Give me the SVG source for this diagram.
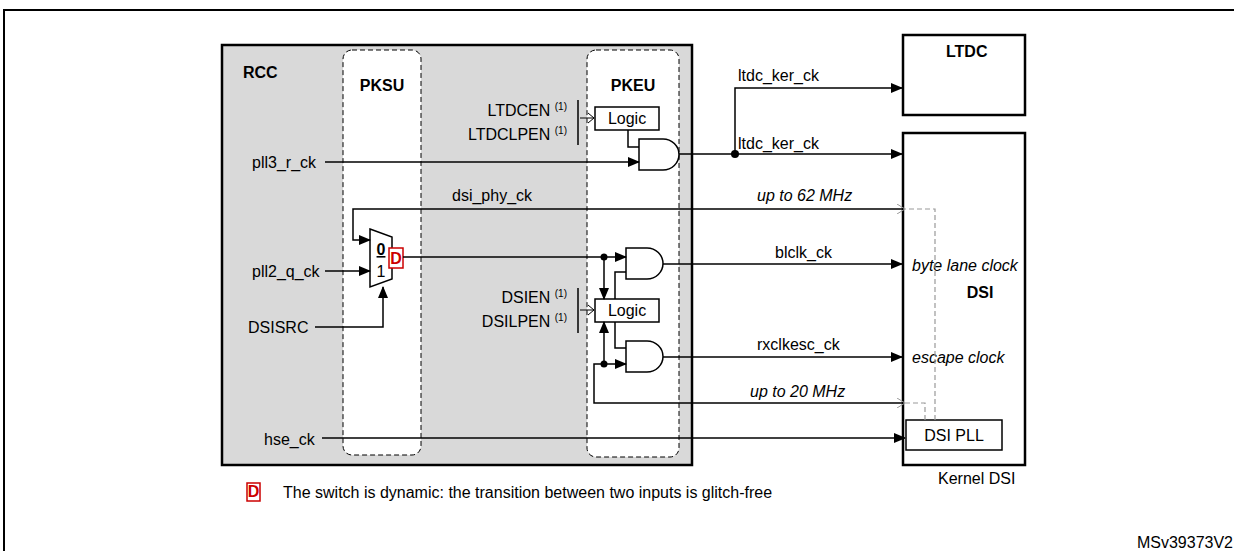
<svg xmlns="http://www.w3.org/2000/svg" width="1234" height="551" viewBox="0 0 1234 551">
<defs>
<marker id="a" markerWidth="12" markerHeight="10" refX="11" refY="5" orient="auto" markerUnits="userSpaceOnUse"><path d="M0,0 L12,5 L0,10 Z" fill="#000"/></marker>
<marker id="o" markerWidth="10" markerHeight="10" refX="1" refY="5" orient="auto" markerUnits="userSpaceOnUse"><path d="M9,0 L1,5 L9,10" fill="none" stroke="#999" stroke-width="1"/></marker>
<style>
text{font-family:"Liberation Sans",Arial,sans-serif;font-size:16px;fill:#000}
.b{font-weight:bold}
.i{font-style:italic}
.s{font-size:10px}
.w{stroke:#000;stroke-width:1.5;fill:none}
.d{stroke:#000;stroke-width:1;stroke-dasharray:5,3;fill:#fff}
.g{stroke:#999;stroke-width:1.2;stroke-dasharray:5,3;fill:none}
.box{stroke:#000;stroke-width:1.5;fill:#fff}
</style>
</defs>
<path d="M4,551 V10 H1234" fill="none" stroke="#000" stroke-width="2"/>
<g id="rcc"><rect x="222" y="45" width="470" height="420" fill="#d9d9d9" stroke="#000" stroke-width="2.5"/><text x="243" y="78" class="b" font-size="19">RCC</text></g>
<g id="pksu"><rect x="343" y="50" width="78" height="405" rx="9" class="d"/><text x="382" y="91" class="b" text-anchor="middle">PKSU</text></g>
<g id="pkeu"><rect x="587" y="50" width="92" height="407" rx="9" class="d"/><text x="633" y="91" class="b" text-anchor="middle">PKEU</text></g>
<g id="ltdc"><rect x="903" y="35" width="122" height="80" fill="#fff" stroke="#000" stroke-width="2.5"/><text x="946" y="57" class="b">LTDC</text></g>
<g id="dsi"><rect x="903" y="133" width="122" height="332" fill="#fff" stroke="#000" stroke-width="2.5"/><text x="980" y="298" class="b" text-anchor="middle">DSI</text>
<text x="912" y="271" class="i">byte lane clock</text><text x="912" y="363" class="i">escape clock</text>
<text x="938" y="484">Kernel DSI</text></g>
<g id="dsipll"><rect x="906" y="420" width="96" height="30" class="box"/><text x="954" y="441" text-anchor="middle">DSI PLL</text></g>
<g id="logic1"><rect x="595" y="107" width="64" height="23" class="box"/><text x="627" y="124" text-anchor="middle">Logic</text></g>
<g id="logic2"><rect x="595" y="299" width="64" height="23" class="box"/><text x="627" y="316" text-anchor="middle">Logic</text></g>
<g id="and1"><path d="M639,139 H663 A16,15.5 0 0 1 663,170 H639 Z" class="box"/></g>
<g id="and2"><path d="M626,248 H647 A16,15.5 0 0 1 647,279 H626 Z" class="box"/></g>
<g id="and3"><path d="M626,341 H647 A16,15.5 0 0 1 647,372 H626 Z" class="box"/></g>
<g id="mux"><path d="M370,229 L392,237 V279 L370,287 Z" class="box"/><text x="381" y="255" text-anchor="middle" class="b" text-decoration="underline">0</text><text x="381" y="277" text-anchor="middle">1</text>
<rect x="389" y="248" width="14" height="20" fill="#fff" stroke="#c00" stroke-width="1.5"/><text x="396" y="264" text-anchor="middle" class="b" style="fill:#c00">D</text></g>
<g id="labels">
<text x="567" y="116" text-anchor="end">LTDCEN <tspan class="s" dy="-6">(1)</tspan></text>
<text x="567" y="140" text-anchor="end">LTDCLPEN <tspan class="s" dy="-6">(1)</tspan></text>
<text x="567" y="303" text-anchor="end">DSIEN <tspan class="s" dy="-6">(1)</tspan></text>
<text x="567" y="327" text-anchor="end">DSILPEN <tspan class="s" dy="-6">(1)</tspan></text>
<text x="252" y="168">pll3_r_ck</text><text x="252" y="277">pll2_q_ck</text><text x="248" y="333">DSISRC</text><text x="264" y="445">hse_ck</text>
<text x="452" y="201">dsi_phy_ck</text><text x="757" y="201" class="i">up to 62 MHz</text>
<text x="738" y="81">ltdc_ker_ck</text><text x="738" y="149">ltdc_ker_ck</text>
<text x="775" y="258">blclk_ck</text><text x="757" y="350">rxclkesc_ck</text><text x="750" y="397" class="i">up to 20 MHz</text>
</g>
<g id="connectors">
<line x1="578" y1="100" x2="578" y2="145" class="w"/><line x1="578" y1="288" x2="578" y2="333" class="w"/>
<path d="M588,113 L594,118 L588,123 M580,118 H594" fill="none" stroke="#000" stroke-width="1"/>
<path d="M588,305 L594,310 L588,315 M580,310 H594" fill="none" stroke="#000" stroke-width="1"/>
<path d="M325,162 H639" class="w" marker-end="url(#a)"/>
<path d="M628,130 V147 H639" class="w"/>
<path d="M679,154 H735 V88 H902" class="w" marker-end="url(#a)"/>
<path d="M735,154 H902" class="w" marker-end="url(#a)"/>
<circle cx="735" cy="154" r="4"/>
<path d="M903,209 H353 V240 H370" class="w" marker-end="url(#a)"/>
<path d="M325,271 H370" class="w" marker-end="url(#a)"/>
<path d="M315,327 H383 V287" class="w" marker-end="url(#a)"/>
<path d="M403,257 H626" class="w" marker-end="url(#a)"/>
<circle cx="604" cy="257" r="3.5"/>
<path d="M604,257 V299" class="w" marker-end="url(#a)"/>
<path d="M615,299 V272 H626" class="w"/>
<path d="M615,322 V348 H626" class="w"/>
<path d="M903,403 H594 V364 H626" class="w" marker-end="url(#a)"/>
<circle cx="604" cy="364" r="3.5"/>
<path d="M604,364 V322" class="w" marker-end="url(#a)"/>
<path d="M663,264 H902" class="w" marker-end="url(#a)"/>
<path d="M663,357 H902" class="w" marker-end="url(#a)"/>
<path d="M322,438 H905" class="w" marker-end="url(#a)"/>
<path d="M935,420 V209 H905" class="g" marker-end="url(#o)"/>
<path d="M925,420 V403 H905" class="g" marker-end="url(#o)"/>
</g>
<g id="legend"><rect x="247" y="483" width="13" height="18" fill="#fff" stroke="#c00" stroke-width="1.5"/><text x="253.5" y="497" text-anchor="middle" class="b" font-size="14" style="fill:#c00">D</text>
<text x="283" y="498" font-size="14">The switch is dynamic: the transition between two inputs is glitch-free</text>
<text x="1233" y="548" text-anchor="end" font-size="14">MSv39373V2</text></g>
</svg>
